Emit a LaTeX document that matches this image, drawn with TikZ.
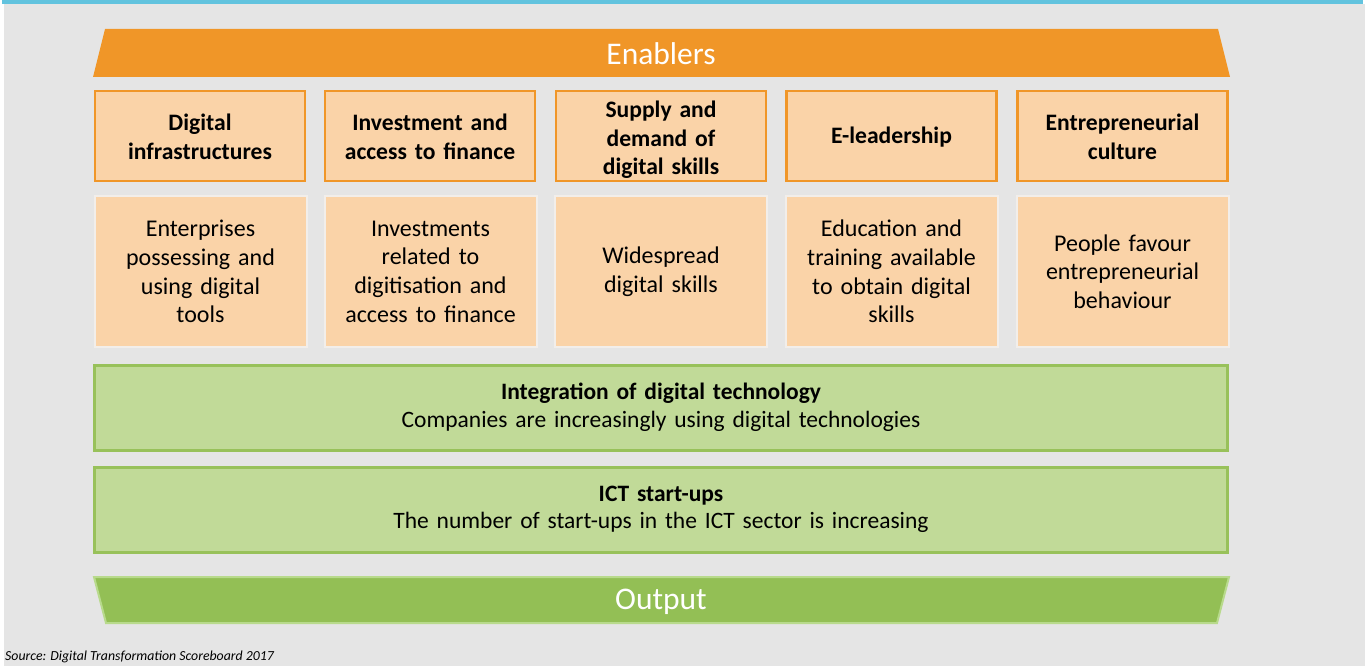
\documentclass[tikz,border=0pt]{standalone}
\usepackage{fontspec}
\setmainfont{Carlito}
\definecolor{bggray}{HTML}{E5E5E5}
\definecolor{topcyan}{HTML}{62C3DE}
\definecolor{orangeD}{HTML}{F09628}
\definecolor{orangeL}{HTML}{FAD3A8}
\definecolor{greenL}{HTML}{C1DA98}
\definecolor{greenB}{HTML}{98C15A}
\definecolor{greenD}{HTML}{93BF55}
\definecolor{greenE}{HTML}{B8DA8C}
\definecolor{boxedge}{HTML}{F2EEEA}
\tikzset{
  head/.style={draw=orangeD, line width=2.2pt, fill=orangeL, minimum width=210pt, minimum height=90pt, inner sep=0pt},
  headtxt/.style={text width=205pt, align=center, inner sep=0pt, font=\fontsize{23.6}{28.5}\selectfont\bfseries},
  body/.style={draw=boxedge, line width=2pt, fill=orangeL, minimum width=212pt, minimum height=150pt, text width=205pt, align=center, inner sep=0pt, font=\fontsize{24}{28.7}\selectfont},
  gbox/.style={draw=greenB, line width=3pt, fill=greenL, minimum width=1133pt, minimum height=85pt, text width=1100pt, align=center, inner sep=0pt, font=\fontsize{23.5}{27.5}\selectfont},
  banner/.style={text=white, font=\fontsize{31.5}{33}\selectfont},
}
\begin{document}
\begin{tikzpicture}[x=1pt,y=-1pt]
\useasboundingbox (0,0) rectangle (1369,666);
\fill[white] (0,0) rectangle (1369,666);
\fill[bggray] (4,4) rectangle (1365,666);
\fill[topcyan] (2,0) rectangle (1363,4.5);
% Enablers banner
\fill[orangeD] (105,29) -- (1218,29) -- (1230,77) -- (93,77) -- cycle;
\node[banner] (enab) at (661,54) {Enablers};
% header boxes
\node[head] (h1) at (200,136) {};
\node[head] (h2) at (430,136) {};
\node[head] (h3) at (661,136) {};
\node[head] (h4) at (891.5,136) {};
\node[head] (h5) at (1122.5,136) {};
\node[headtxt] (h1t) at ([yshift=-1pt]h1.center) {Digital\\infrastructures};
\node[headtxt] (h2t) at ([yshift=-1pt]h2.center) {Investment and\\access to finance};
\node[headtxt] (h3t) at ([yshift=-4pt]h3.center) {Supply and\\demand of\\digital skills};
\node[headtxt] (h4t) at ([yshift=-1pt]h4.center) {E-leadership};
\node[headtxt] (h5t) at ([yshift=-1pt]h5.center) {Entrepreneurial\\culture};
% body boxes
\node[body] (b1) at (200.5,271.5) {Enterprises\\possessing and\\using digital\\tools};
\node[body] (b2) at (430.5,271.5) {Investments\\related to\\digitisation and\\access to finance};
\node[body] (b3) at (661,271.5) {Widespread\\digital skills};
\node[body] (b4) at (891.5,271.5) {Education and\\training available\\to obtain digital\\skills};
\node[body] (b5) at (1122.5,271.5) {People favour\\entrepreneurial\\behaviour};
% green boxes
\node[gbox] (g1) at (661,407.5) {\textbf{Integration of digital technology}\\Companies are increasingly using digital technologies};
\node[gbox] (g2) at (661,509.5) {\textbf{ICT start-ups}\\The number of start-ups in the ICT sector is increasing};
% Output banner
\filldraw[fill=greenD, draw=greenE, line width=2pt] (94,577) -- (1229,577) -- (1217,623) -- (106,623) -- cycle;
\node[banner] (outp) at (661,602) {Output};
% source
\node[anchor=west, inner sep=0pt, font=\fontsize{13.8}{15}\selectfont\itshape] (src) at (5,657) {Source: Digital Transformation Scoreboard 2017};
\end{tikzpicture}
\end{document}
